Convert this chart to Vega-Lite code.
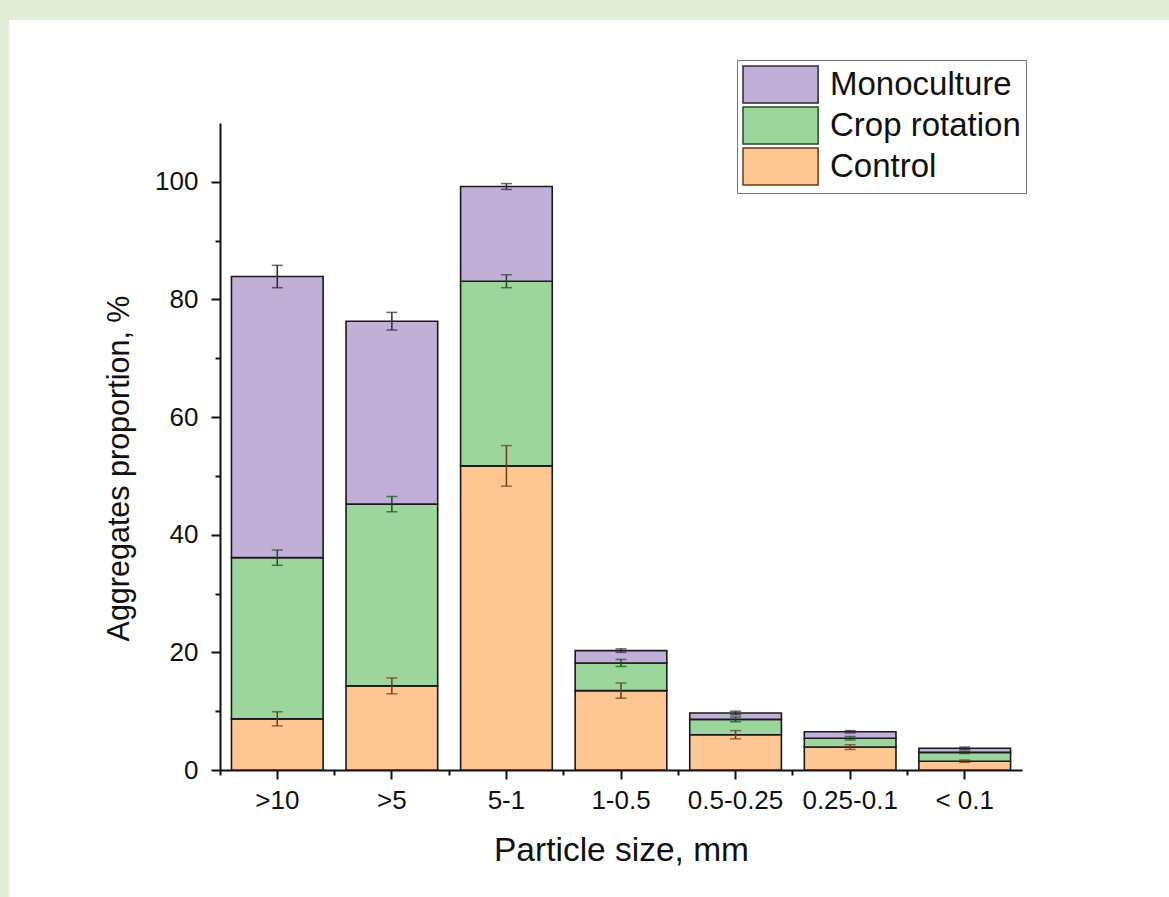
{
  "$schema": "https://vega.github.io/schema/vega-lite/v6.json",
  "width": 1160,
  "height": 877,
  "autosize": {"type": "none"},
  "padding": {"left": 9, "top": 20, "right": 0, "bottom": 0},
  "background": "#e3eed9",
  "config": {
    "view": {"fill": "white", "stroke": null},
    "font": "Liberation Sans"
  },
  "data": {
    "values": [
      {"size": ">10", "series": "Control", "ord": 1, "value": 8.7, "err": 1.2},
      {"size": ">10", "series": "Crop rotation", "ord": 2, "value": 27.4, "err": 1.3},
      {"size": ">10", "series": "Monoculture", "ord": 3, "value": 47.8, "err": 1.9},
      {"size": ">5", "series": "Control", "ord": 1, "value": 14.3, "err": 1.35},
      {"size": ">5", "series": "Crop rotation", "ord": 2, "value": 30.9, "err": 1.3},
      {"size": ">5", "series": "Monoculture", "ord": 3, "value": 31.1, "err": 1.5},
      {"size": "5-1", "series": "Control", "ord": 1, "value": 51.7, "err": 3.45},
      {"size": "5-1", "series": "Crop rotation", "ord": 2, "value": 31.4, "err": 1.1},
      {"size": "5-1", "series": "Monoculture", "ord": 3, "value": 16.1, "err": 0.5},
      {"size": "1-0.5", "series": "Control", "ord": 1, "value": 13.5, "err": 1.3},
      {"size": "1-0.5", "series": "Crop rotation", "ord": 2, "value": 4.7, "err": 0.6},
      {"size": "1-0.5", "series": "Monoculture", "ord": 3, "value": 2.1, "err": 0.3},
      {"size": "0.5-0.25", "series": "Control", "ord": 1, "value": 6.0, "err": 0.7},
      {"size": "0.5-0.25", "series": "Crop rotation", "ord": 2, "value": 2.6, "err": 0.4},
      {"size": "0.5-0.25", "series": "Monoculture", "ord": 3, "value": 1.1, "err": 0.3},
      {"size": "0.25-0.1", "series": "Control", "ord": 1, "value": 3.9, "err": 0.4},
      {"size": "0.25-0.1", "series": "Crop rotation", "ord": 2, "value": 1.5, "err": 0.3},
      {"size": "0.25-0.1", "series": "Monoculture", "ord": 3, "value": 1.1, "err": 0.2},
      {"size": "< 0.1", "series": "Control", "ord": 1, "value": 1.5, "err": 0.2},
      {"size": "< 0.1", "series": "Crop rotation", "ord": 2, "value": 1.5, "err": 0.2},
      {"size": "< 0.1", "series": "Monoculture", "ord": 3, "value": 0.7, "err": 0.2}
    ]
  },
  "transform": [
    {"stack": "value", "groupby": ["size"], "sort": [{"field": "ord", "order": "ascending"}], "as": ["v0", "v1"]}
  ],
  "layer": [
    {
      "mark": {"type": "bar", "stroke": "#1a1a1a", "strokeWidth": 1.6, "fillOpacity": 1},
      "encoding": {
        "x": {
          "field": "size", "type": "nominal", "sort": null,
          "scale": {"domain": [">10", ">5", "5-1", "1-0.5", "0.5-0.25", "0.25-0.1", "< 0.1"], "range": [211, 1013], "paddingInner": 0.2, "paddingOuter": 0.1},
          "axis": {
            "title": "Particle size, mm", "orient": "bottom", "offset": -127, "labelAngle": 0,
            "labelFontSize": 26, "titleFontSize": 33.5, "titleFontWeight": "normal",
            "tickSize": 9, "tickWidth": 2, "domainWidth": 2, "domainColor": "#111", "tickColor": "#111",
            "labelColor": "#111", "titleColor": "#111", "labelPadding": 8, "titlePadding": 21, "grid": false
          }
        },
        "y": {
          "field": "v1", "type": "quantitative",
          "scale": {"domain": [0, 110], "range": [750, 103], "nice": false, "zero": true},
          "axis": {
            "title": "Aggregates proportion, %", "orient": "left", "offset": -211,
            "values": [0, 20, 40, 60, 80, 100], "labelFontSize": 26, "titleFontSize": 30.5, "titleFontWeight": "normal",
            "tickSize": 9, "tickWidth": 2, "domainWidth": 2, "domainColor": "#111", "tickColor": "#111",
            "labelColor": "#111", "titleColor": "#111", "labelPadding": 13, "titlePadding": 20, "titleY": 448, "grid": false
          }
        },
        "y2": {"field": "v0"},
        "fill": {
          "field": "series", "type": "nominal",
          "scale": {"domain": ["Monoculture", "Crop rotation", "Control"], "range": ["#c0b0d7", "#9dd69c", "#fdc693"]},
          "legend": {
            "orient": "none", "legendX": 728, "legendY": 40, "title": null,
            "symbolType": "M-1,-1L3.06,-1L3.06,1L-1,1Z", "symbolSize": 1369,
            "symbolStrokeColor": "#333", "symbolStrokeWidth": 1.5, "symbolFillOpacity": 1,
            "labelFontSize": 33, "labelOffset": 49, "labelColor": "#111", "labelLimit": 400,
            "rowPadding": -2, "padding": 5, "strokeColor": "#777", "fillColor": "white"
          }
        }
      }
    },
    {
      "mark": {"type": "errorbar", "ticks": true, "size": 11, "thickness": 1.5},
      "encoding": {
        "x": {
          "field": "size", "type": "nominal", "sort": null,
          "axis": {
            "orient": "bottom", "offset": -127, "bandPosition": -0.125, "labels": false, "domain": false,
            "title": null, "tickSize": 5, "tickWidth": 2, "tickColor": "#111", "grid": false
          }
        },
        "y": {
          "field": "v1", "type": "quantitative",
          "axis": {
            "orient": "left", "offset": -211, "values": [10, 30, 50, 70, 90], "labels": false, "domain": false,
            "title": null, "tickSize": 5, "tickWidth": 2, "tickColor": "#111", "grid": false
          }
        },
        "yError": {"field": "err"},
        "color": {
          "field": "series", "type": "nominal",
          "scale": {"domain": ["Monoculture", "Crop rotation", "Control"], "range": ["#2f2440", "#1b4f20", "#6e3b12"]},
          "legend": null
        }
      }
    }
  ],
  "resolve": {"axis": {"x": "independent", "y": "independent"}}
}
